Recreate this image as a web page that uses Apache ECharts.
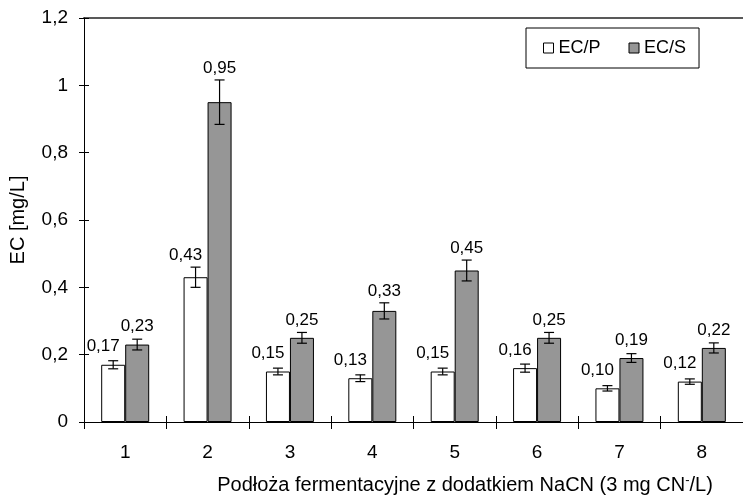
<!DOCTYPE html>
<html>
<head>
<meta charset="utf-8">
<script src="https://cdn.jsdelivr.net/npm/echarts@6/dist/echarts.min.js"></script>
<style>
html,body{margin:0;padding:0;background:#fff;}
#chart{width:743px;height:498px;}
</style>
</head>
<body>
<div id="chart"></div>
<script>
// ---- data ----
var categories = ['1','2','3','4','5','6','7','8'];
var seriesNames = ['EC/P','EC/S'];
var ecP = [0.17, 0.43, 0.15, 0.13, 0.15, 0.16, 0.10, 0.12];
var ecS = [0.23, 0.95, 0.25, 0.33, 0.45, 0.25, 0.19, 0.22];
var errP = [0.012, 0.03, 0.01, 0.01, 0.01, 0.012, 0.008, 0.008];
var errS = [0.016, 0.066, 0.016, 0.024, 0.031, 0.016, 0.013, 0.015];
var yTicks = [0, 0.2, 0.4, 0.6, 0.8, 1.0, 1.2];

var FONT = '"Liberation Sans", Arial, sans-serif';
var BAR_W = 24;
var fmtTick = function (v) { return String(+(+v).toFixed(2)).replace('.', ','); };
var fmtLabel = function (v) { return (+v).toFixed(2).replace('.', ','); };

function errSeries(vals, errs, side, labelDx) {
  return {
    type: 'custom',
    xAxisIndex: 0, yAxisIndex: 0,
    z: 10,
    silent: true,
    data: vals.map(function (v, i) { return [i, v, errs[i]]; }),
    renderItem: function (params, api) {
      var i = api.value(0), v = api.value(1), e = api.value(2);
      var c = api.coord([i, v]);
      var x = c[0] + side * BAR_W / 2;
      var top = api.coord([i, v + e])[1];
      var bot = api.coord([i, v - e])[1];
      var cap = 5;
      var ly = Math.min(c[1] - 18, top - 12);
      return {
        type: 'group',
        children: [
          { type: 'line', shape: { x1: x, y1: top, x2: x, y2: bot }, style: { stroke: '#000', lineWidth: 1.2 } },
          { type: 'line', shape: { x1: x - cap, y1: top, x2: x + cap, y2: top }, style: { stroke: '#000', lineWidth: 1.2 } },
          { type: 'line', shape: { x1: x - cap, y1: bot, x2: x + cap, y2: bot }, style: { stroke: '#000', lineWidth: 1.2 } },
          { type: 'text', style: { x: x + labelDx, y: ly, text: fmtLabel(v), align: 'center', verticalAlign: 'middle', fill: '#000', font: '17px ' + FONT } }
        ]
      };
    }
  };
}

var chart = echarts.init(document.getElementById('chart'), null, { renderer: 'canvas' });
chart.setOption({
  animation: false,
  backgroundColor: '#fff',
  textStyle: { fontFamily: FONT },
  grid: { left: 83, top: 18, width: 665, height: 404, show: false },
  legend: {
    left: 526, top: 28,
    orient: 'horizontal',
    padding: [11, 13, 11, 17],
    itemGap: 28,
    itemWidth: 10, itemHeight: 10,
    borderColor: '#000', borderWidth: 1,
    backgroundColor: '#fff',
    icon: 'rect',
    textStyle: { fontSize: 18, color: '#000', fontFamily: FONT },
    data: [
      { name: seriesNames[0], itemStyle: { color: '#fff', borderColor: '#000', borderWidth: 1 } },
      { name: seriesNames[1], itemStyle: { color: '#969696', borderColor: '#000', borderWidth: 1 } }
    ]
  },
  xAxis: [
    {
      type: 'category', data: categories, position: 'bottom',
      axisLine: { lineStyle: { color: '#000', width: 1 } },
      axisTick: { show: true, inside: false, length: 7, lineStyle: { color: '#000' } },
      axisLabel: { color: '#000', fontSize: 19, fontFamily: FONT, margin: 21 },
      splitLine: { show: false }
    },
    {
      type: 'category', data: categories, position: 'bottom',
      axisLine: { show: false },
      axisTick: { show: true, inside: true, length: 6, lineStyle: { color: '#000' } },
      axisLabel: { show: false },
      splitLine: { show: false }
    },
    {
      type: 'category', data: categories, position: 'top',
      axisLine: { show: true, lineStyle: { color: '#595959', width: 2 } },
      axisTick: { show: false },
      axisLabel: { show: false },
      splitLine: { show: false }
    }
  ],
  yAxis: [
    {
      type: 'value', min: 0, max: 1.2, interval: 0.2,
      name: 'EC [mg/L]', nameLocation: 'middle', nameGap: 56, nameRotate: 90,
      nameTextStyle: { color: '#000', fontSize: 20, fontFamily: FONT },
      axisLine: { show: true, lineStyle: { color: '#000', width: 1 } },
      axisTick: { show: true, inside: false, length: 5, lineStyle: { color: '#000' } },
      axisLabel: { color: '#000', fontSize: 19, fontFamily: FONT, margin: 16,
        formatter: function (v) { return yTicks.indexOf(+(+v).toFixed(1)) >= 0 ? fmtTick(v) : ''; } },
      splitLine: { show: false },
      z: 5
    },
    {
      type: 'value', min: 0, max: 1.2, interval: 0.2, position: 'left',
      axisLine: { show: false },
      axisTick: { show: true, inside: true, length: 5, lineStyle: { color: '#000' } },
      axisLabel: { show: false },
      splitLine: { show: false }
    }
  ],
  graphic: [
    {
      type: 'text', x: 465, y: 474, z: 100,
      style: {
        text: 'Podłoża fermentacyjne z dodatkiem NaCN (3 mg CN{sup|-}/L)',
        font: '20px ' + FONT, fill: '#000', align: 'center', verticalAlign: 'top',
        rich: { sup: { fontSize: 13, verticalAlign: 'top', padding: [0, 0, 9, 0], fontFamily: FONT, fill: '#000' } }
      }
    }
  ],
  series: [
    {
      name: seriesNames[0], type: 'bar', xAxisIndex: 0, yAxisIndex: 0,
      data: ecP, barWidth: BAR_W, barGap: '0%',
      itemStyle: { color: '#fff', borderColor: '#000', borderWidth: 1 }
    },
    {
      name: seriesNames[1], type: 'bar', xAxisIndex: 0, yAxisIndex: 0,
      data: ecS, barWidth: BAR_W, barGap: '0%',
      itemStyle: { color: '#969696', borderColor: '#000', borderWidth: 1 }
    },
    errSeries(ecP, errP, -1, -10),
    errSeries(ecS, errS, 1, 0)
  ]
});
</script>
</body>
</html>
